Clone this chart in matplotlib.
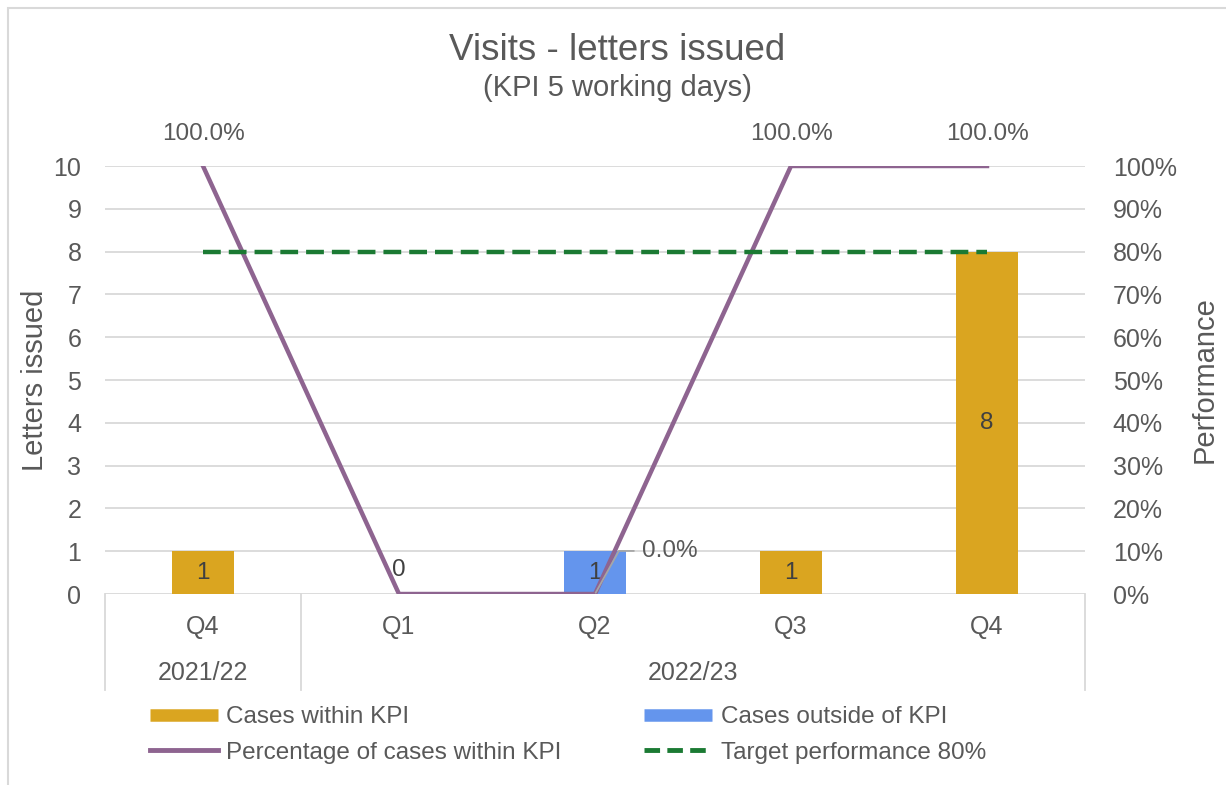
import matplotlib
matplotlib.use('Agg')
import matplotlib.pyplot as plt
from matplotlib.lines import Line2D
from matplotlib.patches import Rectangle
import numpy as np

plt.rcParams['font.family'] = ['Liberation Sans', 'DejaVu Sans']

# data
quarters = ['Q4', 'Q1', 'Q2', 'Q3', 'Q4']
years = ['2021/22', '2022/23']
year_first = [0, 1]
year_last = [0, 4]
within_kpi = [1, 0, 0, 1, 8]
outside_kpi = [0, 0, 1, 0, 0]
pct_within = [1.0, 0.0, 0.0, 1.0, 1.0]
target_pct = [0.8, 0.8, 0.8, 0.8, 0.8]
within_labelled = [True, True, False, True, True]
outside_labelled = [False, False, True, False, False]
pct_labelled = [True, False, True, True, True]

GOLD = '#DAA520'
BLUE = '#6495ED'
PURPLE = '#8E6490'
GREEN = '#1B7A33'
GRID = '#D9D9D9'
TXT = '#595959'
DARKTXT = '#404040'

W, H = 1226, 785
fig = plt.figure(figsize=(W / 100, H / 100), dpi=100)
fig.add_artist(Rectangle((8 / W, -0.05), 1.2, 1.05 - 8 / H, transform=fig.transFigure,
                         fill=False, edgecolor=GRID, lw=1.5))

ax = fig.add_axes([105 / W, 1 - 594 / H, 980 / W, 428 / H])
x = np.arange(len(quarters))
ax.bar(x, within_kpi, width=0.32, color=GOLD, zorder=2)
ax.bar(x, outside_kpi, bottom=within_kpi, width=0.32, color=BLUE, zorder=2)

for i, v in enumerate(within_kpi):
    if within_labelled[i]:
        y = v / 2 if v > 0 else 0.55
        ax.text(i, y, f'{v}', ha='center', va='center', fontsize=17.5, color=DARKTXT, zorder=3)
for i, v in enumerate(outside_kpi):
    if outside_labelled[i]:
        ax.text(i, within_kpi[i] + v / 2, f'{v}', ha='center', va='center', fontsize=17.5,
                color=DARKTXT, zorder=3)

ax.set_xlim(-0.5, len(quarters) - 0.5)
ax.set_ylim(0, 10)
ax.set_yticks(range(0, 11))
ax.set_xticks([])
ax.grid(axis='y', color=GRID, lw=1.3)
ax.set_axisbelow(True)
for s in ax.spines.values():
    s.set_visible(False)
ax.tick_params(axis='y', length=0, pad=17, labelsize=18, labelcolor=TXT)

# multi-level category axis
tr = ax.get_xaxis_transform()
depth = -96 / 428
for xb in [-0.5, 0.5, len(quarters) - 0.5]:
    ax.plot([xb, xb], [0, depth], transform=tr, color=GRID, lw=1.3, clip_on=False)
for i, q in enumerate(quarters):
    ax.text(i, -33 / 428, q, transform=tr, ha='center', va='center', fontsize=18, color=TXT)
for yr, a, b in zip(years, year_first, year_last):
    ax.text((a + b) / 2, -79 / 428, yr, transform=tr,
            ha='center', va='center', fontsize=18, color=TXT)

ax2 = ax.twinx()
ax2.plot(x, pct_within, color=PURPLE, lw=3.2, solid_joinstyle='miter', zorder=3)
ax2.plot(x, target_pct, color=GREEN, lw=3.2, dashes=(4, 1.8), zorder=3)
ax2.set_ylim(0, 1)
ax2.set_yticks(np.arange(0, 1.01, 0.1))
ax2.set_yticklabels([f'{t:.0%}' for t in np.arange(0, 1.01, 0.1)])
ax2.tick_params(axis='y', length=0, pad=20, labelsize=18, labelcolor=TXT)
for s in ax2.spines.values():
    s.set_visible(False)

for i, p in enumerate(pct_within):
    if not pct_labelled[i]:
        continue
    if p > 0:
        ax2.annotate(f'{p:.1%}', (i, p), xytext=(0, 23), textcoords='offset points',
                     ha='center', va='center', fontsize=17.5, color=TXT, annotation_clip=False)
    else:
        ax2.annotate(f'{p:.1%}', (i, p), xytext=(34, 31), textcoords='offset points',
                     ha='left', va='center', fontsize=17.5, color=TXT, annotation_clip=False,
                     arrowprops=dict(arrowstyle='-', color='#A6A6A6', lw=1.3, relpos=(0, 0.5),
                                     shrinkA=4, shrinkB=1,
                                     connectionstyle='angle,angleA=0,angleB=61,rad=0'))

fig.text(617 / W, 1 - 51 / H, 'Visits - letters issued', ha='center', va='center',
         fontsize=26.5, color=TXT)
fig.text(617 / W, 1 - 88 / H, '(KPI 5 working days)', ha='center', va='center',
         fontsize=21, color=TXT)
fig.text(35 / W, 1 - 380 / H, 'Letters issued', rotation=90, ha='center', va='center',
         fontsize=21, color=TXT)
fig.text(1205 / W, 1 - 380 / H, 'Performance', rotation=90, ha='center', va='center',
         fontsize=21, color=TXT)

handles = [
    Line2D([], [], color=GOLD, lw=9, solid_capstyle='butt'),
    Line2D([], [], color=PURPLE, lw=3.5),
    Line2D([], [], color=BLUE, lw=9, solid_capstyle='butt'),
    Line2D([], [], color=GREEN, lw=3.5, dashes=(3.2, 1.5)),
]
labels = ['Cases within KPI', 'Percentage of cases within KPI',
          'Cases outside of KPI', 'Target performance 80%']
leg = fig.legend(handles, labels, ncol=2, loc='center', bbox_to_anchor=(568 / W, 1 - 735 / H),
                 frameon=False, fontsize=17.5, handlelength=2.8, handletextpad=0.35,
                 columnspacing=3.4, labelspacing=0.55)
for t in leg.get_texts():
    t.set_color(TXT)

fig.savefig('out.png', dpi=100, facecolor='white')
